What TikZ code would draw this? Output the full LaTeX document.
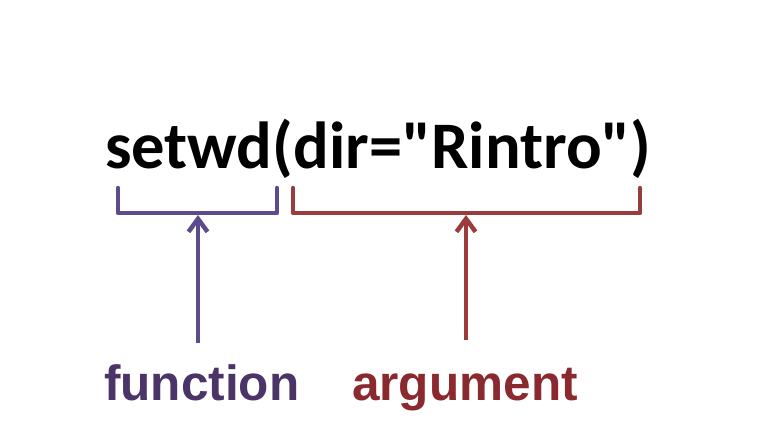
\documentclass[tikz,border=0pt]{standalone}
\usepackage{fontspec}
\usetikzlibrary{arrows.meta}
\newfontfamily\codefont{Carlito}
\newfontfamily\labelfont{Liberation Sans}
\definecolor{fnline}{HTML}{5E4B8B}
\definecolor{fntext}{HTML}{4B3468}
\definecolor{argline}{HTML}{9B3B3B}
\definecolor{argtext}{HTML}{8A2A2E}

\begin{document}
\begin{tikzpicture}[x=1pt, y=-1pt,
    brace/.style={line width=4.5pt, line join=round, line cap=round},
    pointer/.style={line width=4.5pt, -{Straight Barb[length=13pt, width=19pt, line width=4.5pt]}},
    tag/.style={font=\labelfont\bfseries\fontsize{49.5}{49.5}\selectfont, inner sep=0pt, anchor=base west}]
      \useasboundingbox (0,0) rectangle (759,420);
      \node[inner sep=0pt, anchor=base west, font=\codefont\bfseries\fontsize{66.5}{66.5}\selectfont] (code) at (105,168) {setwd(dir="Rintro")};
      % brackets under the call
      \draw[brace, fnline] (118,188) -- (118,213) -- (277,213) -- (277,188);
      \draw[brace, argline] (293,188) -- (293,213) -- (640,213) -- (640,188);
      \coordinate (fnTip) at (198,215);
      \coordinate (argTip) at (466,215);
      % labels and arrows
      \node[tag, fntext] (fn) at (104,400) {function};
      \node[tag, argtext] (arg) at (352,400) {argument};
      \coordinate (fnTail) at (198,343);
      \coordinate (argTail) at (466,340);
      \draw[pointer, fnline] (fnTail) -- (fnTip);
      \draw[pointer, argline] (argTail) -- (argTip);
    \end{tikzpicture}
\end{document}
